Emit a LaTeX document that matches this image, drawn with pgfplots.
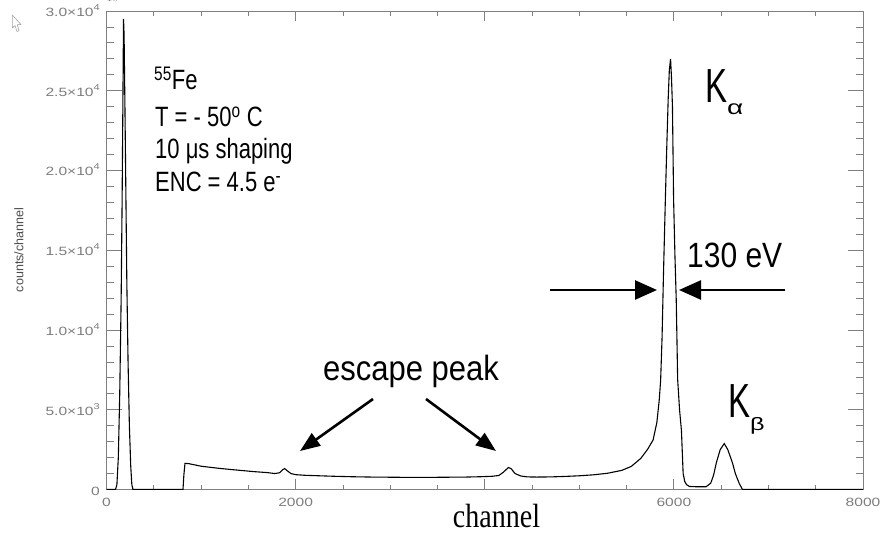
\documentclass[border=0pt]{standalone}
\usepackage{fontspec}
\setmainfont{Liberation Sans}
\newfontfamily\serif{Liberation Serif}
\usepackage{graphicx}
\usepackage{pgfplots}
\pgfplotsset{compat=1.18}
\usetikzlibrary{arrows.meta}
\definecolor{axgray}{RGB}{128,128,128}
\definecolor{lblgray}{RGB}{125,125,125}
\newcommand{\fs}[1]{\fontsize{#1}{#1}\selectfont}
\newcommand{\tl}[1]{\scalebox{1.3}[1]{#1}}
\newcommand{\ex}[1]{\raisebox{0.5em}{\fs{8.5}#1}}

% 55Fe spectrum
\pgfplotstableread{
ch counts
0 0
95 0
110 300
125 2000
140 6000
155 12000
165 18000
173 24000
180 29500
186 28500
195 24000
205 18500
215 13000
228 8000
242 4000
256 1500
268 300
280 0
809 0
818 900
830 1640
870 1620
920 1560
1000 1460
1100 1390
1200 1320
1340 1240
1450 1180
1560 1120
1700 1060
1780 1000
1830 1050
1865 1250
1885 1310
1910 1180
1950 1000
2000 930
2100 890
2250 860
2400 830
2600 800
2800 780
3000 770
3200 760
3400 760
3600 770
3800 780
3950 800
4080 830
4150 880
4200 1100
4250 1380
4280 1300
4320 1000
4380 850
4450 790
4550 780
4700 790
4850 820
5000 860
5150 920
5300 1020
5450 1200
5550 1450
5650 1950
5720 2500
5780 3100
5820 4200
5845 5600
5860 6850
5875 9500
5890 13500
5910 18200
5925 21500
5940 24500
5952 26300
5965 27000
5975 25800
5985 24000
5997 18200
6012 14500
6025 11900
6040 6900
6060 5000
6080 3700
6098 1000
6115 500
6135 300
6165 190
6250 170
6340 170
6390 400
6420 900
6450 1700
6490 2500
6533 2880
6570 2500
6600 2000
6621 1640
6650 1000
6691 380
6726 0
8000 0
}\spectrum

\begin{document}
\begin{tikzpicture}[x=1pt,y=1pt]
\path[use as bounding box] (0,0) rectangle (883,533);
\begin{axis}[
  at={(106.5pt,43.5pt)}, anchor=south west,
  scale only axis, width=756.5pt, height=478.5pt,
  xmin=0, xmax=8000, ymin=0, ymax=30000,
  xtick={0,2000,4000,6000,8000},
  xticklabels={\tl{0},\tl{2000},,\tl{6000},\tl{8000}},
  ytick={0,5000,10000,15000,20000,25000,30000},
  yticklabels={\tl{0},\tl{5.0×10\ex{3}},\tl{1.0×10\ex{4}},\tl{1.5×10\ex{4}},\tl{2.0×10\ex{4}},\tl{2.5×10\ex{4}},\tl{3.0×10\ex{4}}},
  minor x tick num=3, minor y tick num=4,
  tick align=inside,
  axis line style={axgray, line width=0.9pt},
  every tick/.style={axgray, line width=0.8pt},
  xtick style={/pgfplots/major tick length=10pt, /pgfplots/minor tick length=5pt},
  ytick style={/pgfplots/major tick length=15pt, /pgfplots/minor tick length=7pt},
  tick label style={font=\fs{12}, text=lblgray},
  xticklabel style={anchor=north, inner sep=0pt, yshift=-8.5pt},
  yticklabel style={anchor=base east, inner sep=0pt, xshift=-6.5pt, yshift=-5.5pt},
]
\addplot[black, line width=1.1pt] table[x=ch, y=counts] {\spectrum};
\end{axis}

% annotations
\node[anchor=base west, inner sep=0] at (154,443) {\scalebox{1}[1.27]{\fs{22}\textsuperscript{55}Fe}};
\node[anchor=base west, inner sep=0] at (155,406) {\scalebox{1}[1.27]{\fs{22}T = - 50\textsuperscript{o} C}};
\node[anchor=base west, inner sep=0] at (155,374) {\scalebox{1}[1.27]{\fs{22}10 μs shaping}};
\node[anchor=base west, inner sep=0] at (155,341) {\scalebox{1}[1.27]{\fs{22}ENC = 4.5 e\textsuperscript{-}}};

\node[anchor=base west, inner sep=0] at (705,430) {\scalebox{1}[1.45]{\fs{33}K}\raisebox{-12pt}{\scalebox{1.4}[1]{\fs{20}α}}};
\node[anchor=base west, inner sep=0] at (728,116) {\scalebox{1}[1.45]{\fs{33}K}\raisebox{-13pt}{\scalebox{1.4}[1]{\fs{18}β}}};
\node[anchor=base west, inner sep=0] at (687,265) {\scalebox{1}[1.17]{\fs{30}130 eV}};
\node[anchor=base, inner sep=0] at (411,153) {\scalebox{1}[1.13]{\fs{31}escape peak}};

\draw[line width=2.6pt, -{Triangle[length=20pt,width=15pt]}] (373,134) -- (300,82);
\draw[line width=2.6pt, -{Triangle[length=20pt,width=15pt]}] (426,134) -- (496,82);
\draw[line width=2.6pt, -{Triangle[length=22pt,width=19pt]}] (550,243) -- (657,243);
\draw[line width=2.6pt, -{Triangle[length=22pt,width=19pt]}] (785,243) -- (679,243);

\node[anchor=base, inner sep=0] at (496.5,6) {\scalebox{1}[1.2]{\serif\fs{28}channel}};
\node[rotate=90, inner sep=0, text=black!70] at (19,283) {\fs{12.5}counts/channel};

% mouse pointer
\draw[gray!70, line width=0.6pt, line join=round] (12.3,518) -- (12.3,505) -- (15,507.5) -- (17,501.5) -- (19,502.3) -- (17.3,508.3) -- (21,508.5) -- cycle;
\end{tikzpicture}
\end{document}
